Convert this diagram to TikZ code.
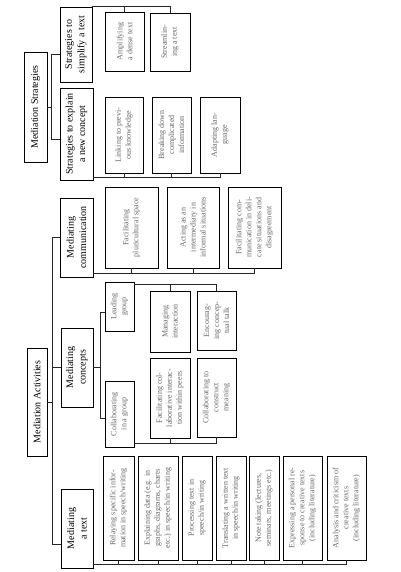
\documentclass[tikz,border=0pt]{standalone}
\usepackage{fontspec}
\setmainfont{Liberation Serif}
\usepackage{tikz}
\usetikzlibrary{calc}

\begin{document}
\begin{tikzpicture}[
  x=1pt, y=-1pt,
  catbox/.style 2 args={draw, rotate=90, inner sep=1pt, align=center, line width=0.7pt,
    minimum width=#1pt, minimum height=#2pt, font=\fontsize{10}{12.5}\selectfont},
  leaf/.style 2 args={catbox={#1}{#2}, text=black!60, font=\fontsize{8}{10}\selectfont},
  link/.style={draw=black!85, line width=0.6pt}
]
\useasboundingbox (0,0) rectangle (400,572);

\node[catbox={110}{23}] (ms) at (35.5,107) {Mediation Strategies};
\node[catbox={75}{32}] (sim) at (76,44.5) {Strategies to\\simplify a text};
\node[catbox={92}{33}] (exp) at (76.5,134) {Strategies to explain\\a new concept};
\node[leaf={59}{39}] (amp) at (124.5,41.5) {Amplifying\\a dense text};
\node[leaf={58}{40}] (str) at (170,42) {Streamlin-\\ing a text};
\node[leaf={76}{38}] (lnk) at (124,135) {Linking to previ-\\ous knowledge};
\node[leaf={76}{39}] (brk) at (171.5,135) {Breaking down\\complicated\\information};
\node[leaf={76}{40}] (ada) at (220,135) {Adapting lan-\\guage};

\node[catbox={108}{20}] (ma) at (37,402) {Mediation Activities};
\node[catbox={79}{33}] (com) at (76.5,237.5) {Mediating\\communication};
\node[catbox={79}{32}] (con) at (77,367.5) {Mediating\\concepts};
\node[catbox={79}{32}] (txt) at (77,528.5) {Mediating\\a text};

\node[leaf={81}{53}] (fps) at (131.5,227.5) {Facilitating\\pluricultural space};
\node[leaf={81}{52}] (act) at (193,227.5) {Acting as an\\intermediary in\\informal situations};
\node[leaf={81}{53}] (fcd) at (254.5,227.5) {Facilitating com-\\munication in deli-\\cate situations and\\disagreement};

\node[leaf={49}{29}] (lead) at (119.5,306.5) {Leading\\group};
\node[leaf={66}{29}] (clg) at (119.5,414) {Collaborating\\in a group};
\node[leaf={61}{40}] (mgi) at (170,321.5) {Managing\\interaction};
\node[leaf={59}{39}] (enc) at (216.5,320.5) {Encourag-\\ing concep-\\tual talk};
\node[leaf={80}{40}] (fci) at (170,398) {Facilitating col-\\laborative interac-\\tion within peers};
\node[leaf={79}{39}] (ctm) at (216.5,397.5) {Collaborating to\\construct\\meaning};

\node[leaf={104}{31}] (t1) at (118.5,508) {Relaying specific infor-\\mation in speech/writing};
\node[leaf={104}{40}] (t2) at (158,508) {Explaining data (e.g. in\\graphs, diagrams, charts\\etc.) in speech/in writing};
\node[leaf={104}{30}] (t3) at (197,508) {Processing text in\\speech/in writing};
\node[leaf={104}{30}] (t4) at (231,508) {Translating a written text\\in speech/in writing};
\node[leaf={104}{30}] (t5) at (264,508) {Note taking (lectures,\\seminars, meetings etc.)};
\node[leaf={104}{39}] (t6) at (302.5,508) {Expressing a personal re-\\sponse to creative texts\\(including literature)};
\node[leaf={104}{39}] (t7) at (346.5,508) {Analysis and criticism of\\creative texts\\(including literature)};

\draw[link] (ms.south) -- ++(4,0) coordinate (msj);
\draw[link] ([yshift=-10pt]sim.north) -| (msj) |- ([yshift=-5pt]exp.north);
\draw[link] (sim.south east) -| (str.east);
\draw[link] (amp.east) -- (amp.east |- sim.south east);
\coordinate (expj) at ([yshift=3pt]exp.south west);
\draw[link] (expj) -| (ada.west);
\foreach \n in {lnk,brk}
  \draw[link] (\n.west) -- (\n.west |- expj);

\draw[link] (ma.south) -- ++(5,0) coordinate (maj);
\draw[link] (com.north) -| (maj) |- ([yshift=-16pt]txt.north);
\draw[link] (con.north) -- (con.north -| maj);

\coordinate (comj) at ([yshift=4pt]com.south west);
\draw[link] (comj) -| (fcd.west);
\foreach \n in {fps,act}
  \draw[link] (\n.west) -- (\n.west |- comj);

\draw[link] (con.south) -- ++(7,0) coordinate (conj);
\draw[link] ([yshift=-6pt]lead.north) -| (conj) |- ([yshift=-4pt]clg.north);
\coordinate (leadj) at ([yshift=-3pt]lead.south east);
\draw[link] (leadj) -| (enc.east);
\draw[link] (mgi.east) -- (mgi.east |- leadj);
\coordinate (clgj) at ([yshift=4pt]clg.south west);
\draw[link] (clgj) -| (ctm.west);
\draw[link] (fci.west) -- (fci.west |- clgj);

\coordinate (txtj) at ([yshift=4pt]txt.south west);
\draw[link] (txtj) -| (t7.west);
\foreach \n in {t1,t2,t3,t4,t5,t6}
  \draw[link] (\n.west) -- (\n.west |- txtj);
\end{tikzpicture}
\end{document}
